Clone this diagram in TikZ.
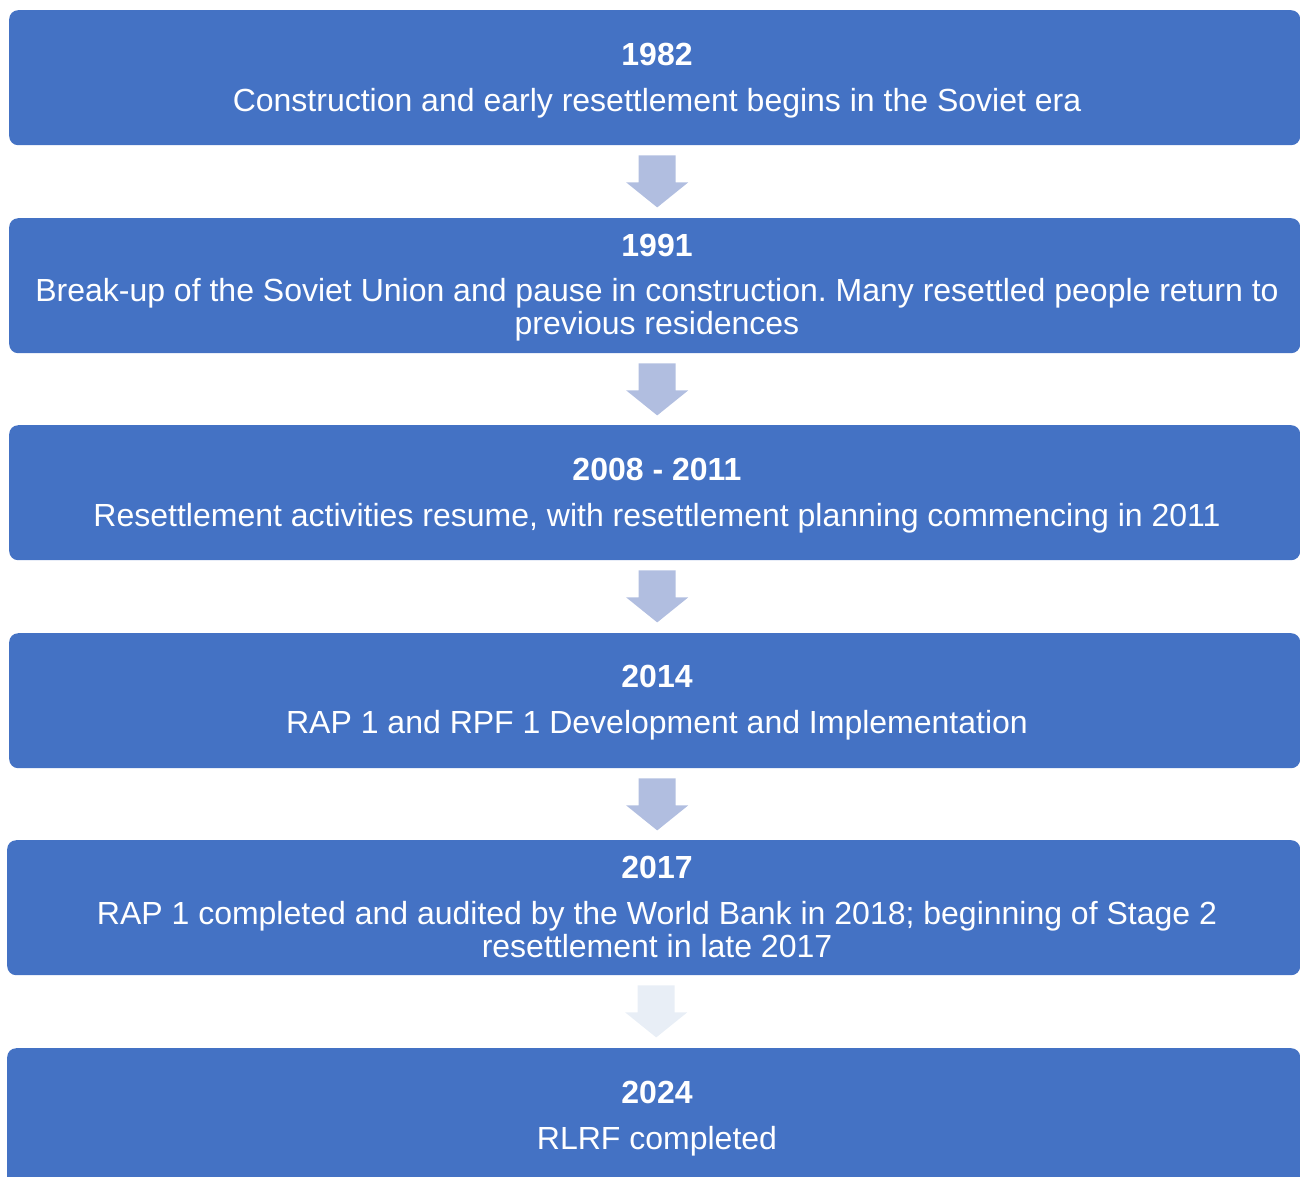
\documentclass[tikz,border=0pt]{standalone}
\usepackage{fontspec}
\setmainfont{Liberation Sans}
\usetikzlibrary{calc}
\frenchspacing
\definecolor{boxblue}{HTML}{4472C4}
\definecolor{arrowblue}{HTML}{B1BEE0}
\definecolor{arrowpale}{HTML}{E8EEF6}
\begin{document}
\begin{tikzpicture}[x=1pt,y=-1pt,
  stagebox/.style={fill=boxblue, draw=none, rounded corners=9pt, minimum width=1291pt, minimum height=135pt, inner sep=0pt, anchor=north west},
  yeartext/.style={text=white, font=\fontsize{32}{33}\selectfont\bfseries, anchor=base, inner sep=0pt},
  desctext/.style={text=white, font=\fontsize{32}{33}\selectfont\frenchspacing, anchor=base, align=center, inner sep=0pt}]
\useasboundingbox (0,0) rectangle (1300,1176);
\clip (0,0) rectangle (1300,1176);
% boxes
\node[stagebox] (b1) at (9,10) {};
\node[stagebox] (b2) at (9,218) {};
\node[stagebox] (b3) at (9,425) {};
\node[stagebox] (b4) at (9,633) {};
\node[stagebox, minimum width=1293pt] (b5) at (7,840) {};
\node[stagebox, minimum width=1293pt, minimum height=150pt] (b6) at (7,1048) {};
% arrows
\foreach \u/\c in {b1/arrowblue,b2/arrowblue,b3/arrowblue,b4/arrowblue,b5/arrowpale}{
  \path (\u.south) ++(2.5,10) coordinate (t);
  \fill[\c] (t) ++(-18.5,0) -- ++(37,0) -- ++(0,27) -- ++(12.5,0) -- ++(-31,25) -- ++(-31,-25) -- ++(12.5,0) -- cycle;
}
% texts (base anchor of a two-line node is its last line)
\node[yeartext] (y1) at (657,65) {1982};
\node[desctext] (d1) at (657,111) {Construction and early resettlement begins in the Soviet era};
\node[yeartext] (y2) at (657,256) {1991};
\node[desctext] (d2) at (657,334) {Break-up of the Soviet Union and pause in construction. Many resettled people return to\\previous residences};
\node[yeartext] (y3) at (657,480) {2008 - 2011};
\node[desctext] (d3) at (657,526) {Resettlement activities resume, with resettlement planning commencing in 2011};
\node[yeartext] (y4) at (657,687) {2014};
\node[desctext] (d4) at (657,733) {RAP 1 and RPF 1 Development and Implementation};
\node[yeartext] (y5) at (657,878) {2017};
\node[desctext] (d5) at (657,957) {RAP 1 completed and audited by the World Bank in 2018; beginning of Stage 2\\resettlement in late 2017};
\node[yeartext] (y6) at (657,1103) {2024};
\node[desctext] (d6) at (657,1149) {RLRF completed};
\end{tikzpicture}
\end{document}
